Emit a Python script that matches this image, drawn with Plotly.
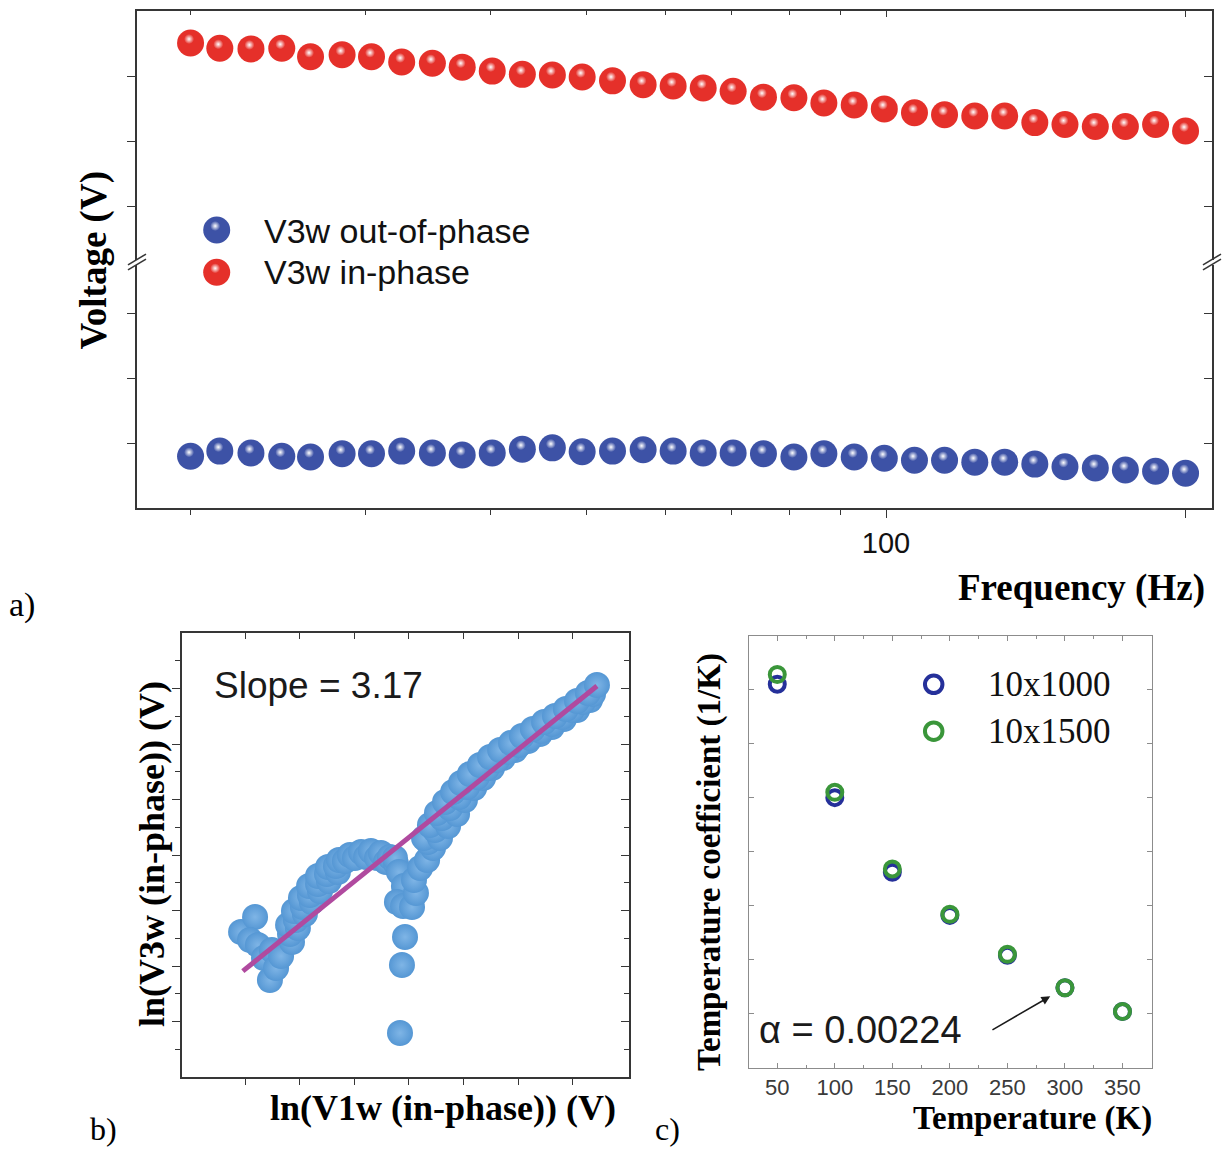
import plotly.graph_objects as go

W, H = 1225, 1150
SERIF = "Liberation Serif"
SANS = "Liberation Sans"

# ---------------- (a) V3w vs frequency (broken voltage axis, arbitrary units) ----------------
freq_hz = [20.0, 21.4, 23.0, 24.7, 26.4, 28.4, 30.4, 32.6, 35.0, 37.5, 40.2, 43.1,
           46.2, 49.5, 53.1, 57.0, 61.1, 65.5, 70.2, 75.3, 80.8, 86.6, 92.9, 99.6,
           106.8, 114.5, 122.8, 131.6, 141.1, 151.3, 162.3, 174.0, 186.6, 200.0]
v3w_in_phase = [5.51, 5.43, 5.42, 5.43, 5.30, 5.33, 5.30, 5.22, 5.20, 5.14, 5.08, 5.03,
                5.02, 4.99, 4.93, 4.87, 4.85, 4.82, 4.77, 4.68, 4.67, 4.59, 4.56, 4.50,
                4.44, 4.41, 4.39, 4.39, 4.29, 4.26, 4.23, 4.23, 4.26, 4.16]
v3w_out_of_phase = [0.80, 0.88, 0.85, 0.80, 0.79, 0.84, 0.84, 0.88, 0.85, 0.82, 0.85, 0.91,
                    0.93, 0.87, 0.88, 0.90, 0.88, 0.85, 0.85, 0.84, 0.79, 0.84, 0.79, 0.77,
                    0.74, 0.74, 0.71, 0.71, 0.68, 0.64, 0.62, 0.59, 0.57, 0.54]
freq_major_ticks = [100, 200]
freq_major_text = ["100", ""]
freq_minor_ticks = [20, 30, 40, 50, 60, 70, 80, 90]
low_seg_ticks = [1, 2, 3]
high_seg_ticks = [3, 4, 5]

# ---------------- (b) ln(V3w) vs ln(V1w) ----------------
ln_v1w = [-3.018, -2.954, -2.977, -2.941, -2.913, -2.877, -2.886, -2.858, -2.835,
          -2.785, -2.794, -2.803, -2.758, -2.767, -2.776, -2.726, -2.735, -2.744,
          -2.694, -2.703, -2.707, -2.657, -2.666, -2.666, -2.616, -2.625, -2.620,
          -2.575, -2.584, -2.570, -2.543, -2.520, -2.497, -2.469, -2.446, -2.424,
          -2.396, -2.378, -2.355, -2.337, -2.309,
          -2.314, -2.296, -2.273, -2.305, -2.277, -2.236, -2.218, -2.227, -2.199, -2.167,
          -2.268, -2.282, -2.291,
          -2.140, -2.163, -2.181, -2.108, -2.131, -2.154, -2.071, -2.099, -2.122,
          -2.030, -2.062, -2.085, -1.994, -2.021, -2.048, -1.952, -1.984, -2.012,
          -1.911, -1.939, -1.971, -1.870, -1.893, -1.925, -1.820, -1.847, -1.879,
          -1.765, -1.797, -1.833, -1.705, -1.747, -1.783, -1.651, -1.696, -1.733,
          -1.596, -1.646, -1.683, -1.541, -1.596, -1.632, -1.481, -1.550, -1.582,
          -1.504, -1.532, -1.422, -1.454, -1.481, -1.408, -1.431, -1.390]
ln_v3w = [-11.387, -11.117, -11.532, -11.622, -11.856, -11.712, -12.252, -12.036, -11.820,
          -11.568, -11.423, -11.261, -11.315, -11.171, -11.009, -11.063, -10.937, -10.775,
          -10.847, -10.721, -10.559, -10.649, -10.523, -10.378, -10.468, -10.342, -10.216,
          -10.306, -10.198, -10.090, -10.108, -10.000, -10.054, -9.946, -10.036, -9.928,
          -10.054, -9.964, -10.126, -10.036, -10.162,
          -10.054, -10.306, -10.559, -10.847, -10.919, -10.937, -10.685, -10.450, -10.234,
          -10.090, -11.477, -11.982, -13.207,
          -9.874, -9.766, -9.694, -9.694, -9.550, -9.459, -9.477, -9.333, -9.243,
          -9.261, -9.153, -9.045, -9.009, -8.955, -8.865, -8.793, -8.775, -8.703,
          -8.613, -8.595, -8.541, -8.432, -8.432, -8.378, -8.252, -8.288, -8.234,
          -8.108, -8.144, -8.108, -7.946, -8.018, -7.982, -7.820, -7.892, -7.856,
          -7.694, -7.766, -7.730, -7.550, -7.640, -7.604, -7.387, -7.514, -7.495,
          -7.387, -7.369, -7.207, -7.243, -7.225, -7.099, -7.081, -6.937]
fit_slope = 3.17
fit_intercept = -2.55
fit_x = [-3.01, -1.39]
fit_y = [fit_slope * v + fit_intercept for v in fit_x]
b_x_ticks = [-3.0, -2.75, -2.5, -2.25, -2.0, -1.75, -1.5]
b_y_major = [-13, -12, -11, -10, -9, -8, -7]
b_y_minor = [-13.5, -12.5, -11.5, -10.5, -9.5, -8.5, -7.5, -6.5]

# ---------------- (c) temperature coefficient ----------------
temperature_k = [50, 100, 150, 200, 250, 300, 350]
alpha_10x1000 = [0.00505, 0.00400, 0.00331, 0.00291, 0.00254, 0.00224, 0.00202]
alpha_10x1500 = [0.00514, 0.00405, 0.00334, 0.00292, 0.00255, 0.00224, 0.00202]
alpha_room = 0.00224
c_x_ticks = [50, 100, 150, 200, 250, 300, 350]
c_x_minor = [25, 75, 125, 175, 225, 275, 325, 375]
c_y_ticks = [0.0020, 0.0025, 0.0030, 0.0035, 0.0040, 0.0045, 0.0050]

RED = "#e5302a"
BLUE = "#3d52a6"
SKY = "#5597d4"
FIT = "#b04a9f"
C_BLUE = "#25309a"
C_GREEN = "#3a963a"
AX = "#363636"


def fx(p):
    return p / W


def fy(p):
    return 1 - p / H


# panel rectangles in page pixels
A_L, A_R, A_B, A_T = 137, 1212, 508.3, 11
A_BRK_LO, A_BRK_HI = 264.5, 259.5
B_L, B_R, B_B, B_T = 182, 629, 1077, 633
C_L, C_R, C_B, C_T = 748.5, 1151.7, 1067.7, 635.6
HL_DX, HL_DY = -1.5, -4.0  # sphere highlight offset

freq_range = [1.2472, 2.3276]
low_range = [0, 3.751]
high_range = [2.19, 6.0015]
b_xr = [-3.2882, -1.2434]
b_yr = [-14, -6]
c_xr = [25, 375.4]
c_yr = [0.0015, 0.0055]

fig = go.Figure()


def sphere(x, y, xa, ya, color, size):
    return go.Scatter(x=x, y=y, xaxis=xa, yaxis=ya, mode="markers", cliponaxis=False,
                      hoverinfo="skip",
                      marker=dict(size=size, color=color, line=dict(width=0)))


def glint(x, y, xa, ya, color):
    return go.Scatter(x=x, y=y, xaxis=xa, yaxis=ya, mode="markers", cliponaxis=False,
                      hoverinfo="skip",
                      marker=dict(size=10, color=color, line=dict(width=0),
                                  gradient=dict(type="radial", color="white")))


def frame_only(xa, ya):
    # empty trace so that a mirror-side axis gets drawn
    return go.Scatter(x=[], y=[], xaxis=xa, yaxis=ya, mode="markers", hoverinfo="skip")


# (a) spheres
fig.add_trace(sphere(freq_hz, v3w_out_of_phase, "x", "y", BLUE, 27))
fig.add_trace(sphere(freq_hz, v3w_in_phase, "x2", "y2", RED, 27))
fig.add_trace(glint(freq_hz, v3w_out_of_phase, "x5", "y5", BLUE))
fig.add_trace(glint(freq_hz, v3w_in_phase, "x5", "y6", RED))
fig.add_trace(frame_only("x", "y3"))
fig.add_trace(frame_only("x2", "y4"))

# (b) data cloud and linear fit
fig.add_trace(go.Scatter(x=ln_v1w, y=ln_v3w, xaxis="x7", yaxis="y7", mode="markers",
                         cliponaxis=False, hoverinfo="skip",
                         marker=dict(size=26, color=SKY, line=dict(width=0),
                                     gradient=dict(type="radial", color="#7fb5e6"))))
fig.add_trace(go.Scatter(x=fit_x, y=fit_y, xaxis="x7", yaxis="y7", mode="lines",
                         hoverinfo="skip", line=dict(color=FIT, width=5)))
fig.add_trace(frame_only("x8", "y7"))
fig.add_trace(frame_only("x7", "y8"))

# (c) open circles
fig.add_trace(go.Scatter(x=temperature_k, y=alpha_10x1000, xaxis="x9", yaxis="y9",
                         mode="markers", cliponaxis=False, hoverinfo="skip",
                         marker=dict(symbol="circle-open", size=15, color=C_BLUE,
                                     line=dict(width=4, color=C_BLUE))))
fig.add_trace(go.Scatter(x=temperature_k, y=alpha_10x1500, xaxis="x9", yaxis="y9",
                         mode="markers", cliponaxis=False, hoverinfo="skip",
                         marker=dict(symbol="circle-open", size=15, color=C_GREEN,
                                     line=dict(width=4, color=C_GREEN))))

# legend swatches (page-pixel overlay axes)
fig.add_trace(sphere([216.7], [230.0], "x10", "y10", BLUE, 27))
fig.add_trace(sphere([216.7], [272.3], "x10", "y10", RED, 27))
fig.add_trace(glint([216.7 + HL_DX], [230.0 + HL_DY], "x10", "y10", BLUE))
fig.add_trace(glint([216.7 + HL_DX], [272.3 + HL_DY], "x10", "y10", RED))
fig.add_trace(go.Scatter(x=[933.7], y=[684.3], xaxis="x10", yaxis="y10", mode="markers",
                         hoverinfo="skip",
                         marker=dict(symbol="circle-open", size=17.5, color=C_BLUE,
                                     line=dict(width=4, color=C_BLUE))))
fig.add_trace(go.Scatter(x=[933.7], y=[731.2], xaxis="x10", yaxis="y10", mode="markers",
                         hoverinfo="skip",
                         marker=dict(symbol="circle-open", size=17.5, color=C_GREEN,
                                     line=dict(width=4, color=C_GREEN))))

base = dict(showgrid=False, zeroline=False, showline=True, linecolor=AX, linewidth=1.6,
            tickcolor=AX, tickwidth=1.4)
hidden = dict(visible=False, showgrid=False, zeroline=False)

a_xdom = [fx(A_L), fx(A_R)]
a_low_dom = [fy(A_B), fy(A_BRK_LO)]
a_high_dom = [fy(A_BRK_HI), fy(A_T)]

layout_axes = dict(
    xaxis=dict(base, type="log", range=freq_range, domain=a_xdom, anchor="y", side="bottom",
               ticks="outside", ticklen=8, tickmode="array", tickvals=freq_major_ticks,
               ticktext=freq_major_text, tickfont=dict(family=SANS, size=29, color="#111"),
               minor=dict(tickmode="array", tickvals=freq_minor_ticks, ticks="outside",
                          ticklen=5, tickcolor=AX, tickwidth=1.4)),
    xaxis2=dict(base, type="log", range=freq_range, domain=a_xdom, anchor="y2", side="top",
                ticks="inside", ticklen=6, tickmode="array", tickvals=freq_major_ticks,
                showticklabels=False,
                minor=dict(tickmode="array", tickvals=freq_minor_ticks, ticks="inside",
                           ticklen=4, tickcolor=AX, tickwidth=1.4)),
    yaxis=dict(base, range=low_range, domain=a_low_dom, anchor="x", side="left",
               ticks="outside", ticklen=8, tickmode="array", tickvals=low_seg_ticks,
               showticklabels=False),
    yaxis2=dict(base, range=high_range, domain=a_high_dom, anchor="x2", side="left",
                ticks="outside", ticklen=8, tickmode="array", tickvals=high_seg_ticks,
                showticklabels=False),
    yaxis3=dict(base, range=low_range, overlaying="y", anchor="x", side="right",
                ticks="inside", ticklen=8, tickmode="array", tickvals=low_seg_ticks,
                showticklabels=False),
    yaxis4=dict(base, range=high_range, overlaying="y2", anchor="x2", side="right",
                ticks="inside", ticklen=8, tickmode="array", tickvals=high_seg_ticks,
                showticklabels=False),
    xaxis5=dict(hidden, type="log", range=freq_range,
                domain=[fx(A_L + HL_DX), fx(A_R + HL_DX)], anchor="y5"),
    yaxis5=dict(hidden, range=low_range,
                domain=[fy(A_B + HL_DY), fy(A_BRK_LO + HL_DY)], anchor="x5"),
    yaxis6=dict(hidden, range=high_range,
                domain=[fy(A_BRK_HI + HL_DY), fy(A_T + HL_DY)], anchor="x5"),
    xaxis7=dict(base, range=b_xr, domain=[fx(B_L), fx(B_R)], anchor="y7", side="bottom",
                ticks="outside", ticklen=6, tickmode="array", tickvals=b_x_ticks,
                showticklabels=False),
    yaxis7=dict(base, range=b_yr, domain=[fy(B_B), fy(B_T)], anchor="x7", side="left",
                ticks="outside", ticklen=8, tickmode="array", tickvals=b_y_major,
                showticklabels=False,
                minor=dict(tickmode="array", tickvals=b_y_minor, ticks="outside",
                           ticklen=5, tickcolor=AX, tickwidth=1.4)),
    xaxis8=dict(base, range=b_xr, overlaying="x7", anchor="y7", side="top",
                ticks="inside", ticklen=6, tickmode="array", tickvals=b_x_ticks,
                showticklabels=False),
    yaxis8=dict(base, range=b_yr, overlaying="y7", anchor="x7", side="right",
                ticks="inside", ticklen=8, tickmode="array", tickvals=b_y_major,
                showticklabels=False,
                minor=dict(tickmode="array", tickvals=b_y_minor, ticks="inside",
                           ticklen=5, tickcolor=AX, tickwidth=1.4)),
    xaxis9=dict(showgrid=False, zeroline=False, showline=True, linecolor="#8c8c8c",
                linewidth=1.2, range=c_xr, domain=[fx(C_L), fx(C_R)], anchor="y9",
                mirror="ticks", ticks="inside", ticklen=5, tickcolor="#8c8c8c", tickwidth=1,
                tickmode="array", tickvals=c_x_ticks,
                tickfont=dict(family=SANS, size=22, color="#3a3a3a"),
                minor=dict(tickmode="array", tickvals=c_x_minor, ticks="inside",
                           ticklen=3, tickcolor="#8c8c8c", tickwidth=1)),
    yaxis9=dict(showgrid=False, zeroline=False, showline=True, linecolor="#8c8c8c",
                linewidth=1.2, range=c_yr, domain=[fy(C_B), fy(C_T)], anchor="x9",
                mirror="ticks", ticks="inside", ticklen=5, tickcolor="#8c8c8c", tickwidth=1,
                tickmode="array", tickvals=c_y_ticks, showticklabels=False),
    xaxis10=dict(hidden, range=[0, W], domain=[0, 1], anchor="y10"),
    yaxis10=dict(hidden, range=[H, 0], domain=[0, 1], anchor="x10"),
)


def label(text, x, y, size, family=SERIF, bold=False, angle=0, xanchor="center",
          color="black"):
    return dict(text=text, x=fx(x), y=fy(y), xref="paper", yref="paper", showarrow=False,
                textangle=angle, xanchor=xanchor, yanchor="middle",
                font=dict(family=family, size=size, color=color,
                          weight="bold" if bold else "normal"))


annotations = [
    label("Voltage (V)", 93, 260.5, 37, bold=True, angle=-90),
    label("Frequency (Hz)", 1081.5, 588, 37, bold=True),
    label("V3w out-of-phase", 262, 231, 34, family=SANS, xanchor="left", color="#111"),
    label("V3w in-phase", 262, 272, 34, family=SANS, xanchor="left", color="#111"),
    label("a)", 22, 605, 34),
    label("Slope = 3.17", 318, 685, 37, family=SANS, color="#1a1a1a"),
    label("ln(V1w (in-phase)) (V)", 442.5, 1108, 36, bold=True),
    label("ln(V3w (in-phase)) (V)", 152, 854, 36, bold=True, angle=-90),
    label("b)", 103, 1129, 32),
    label("10x1000", 986, 684, 35, xanchor="left", color="#111"),
    label("10x1500", 986, 731, 35, xanchor="left", color="#111"),
    label("\u03b1 = 0.00224", 860, 1030, 38, family=SANS, color="#1a1a1a"),
    label("Temperature (K)", 1032, 1118, 33, bold=True),
    label("Temperature coefficient (1/K)", 709, 862, 33, bold=True, angle=-90),
    label("c)", 667, 1129, 32),
    dict(text="", x=300, y=alpha_room, xref="x9", yref="y9", showarrow=True,
         ax=-74, ay=43, standoff=17, arrowhead=2, arrowsize=1.1, arrowwidth=1.6,
         arrowcolor="#1a1a1a"),
]


def brk(xc, yc):
    # one "/" stroke of the axis-break symbol, centred on the axis at (xc, yc)
    return dict(type="line", xref="paper", yref="paper", x0=fx(xc - 9), y0=fy(yc + 5.4),
                x1=fx(xc + 9), y1=fy(yc - 5.4), line=dict(color=AX, width=1.6))


shapes = [brk(A_L, A_BRK_HI), brk(A_L, A_BRK_LO), brk(A_R, A_BRK_HI), brk(A_R, A_BRK_LO)]

fig.update_layout(
    width=W, height=H, autosize=False, margin=dict(l=0, r=0, t=0, b=0, pad=0),
    paper_bgcolor="white", plot_bgcolor="rgba(0,0,0,0)", showlegend=False,
    annotations=annotations, shapes=shapes, **layout_axes,
)

fig.write_html("out.html")
